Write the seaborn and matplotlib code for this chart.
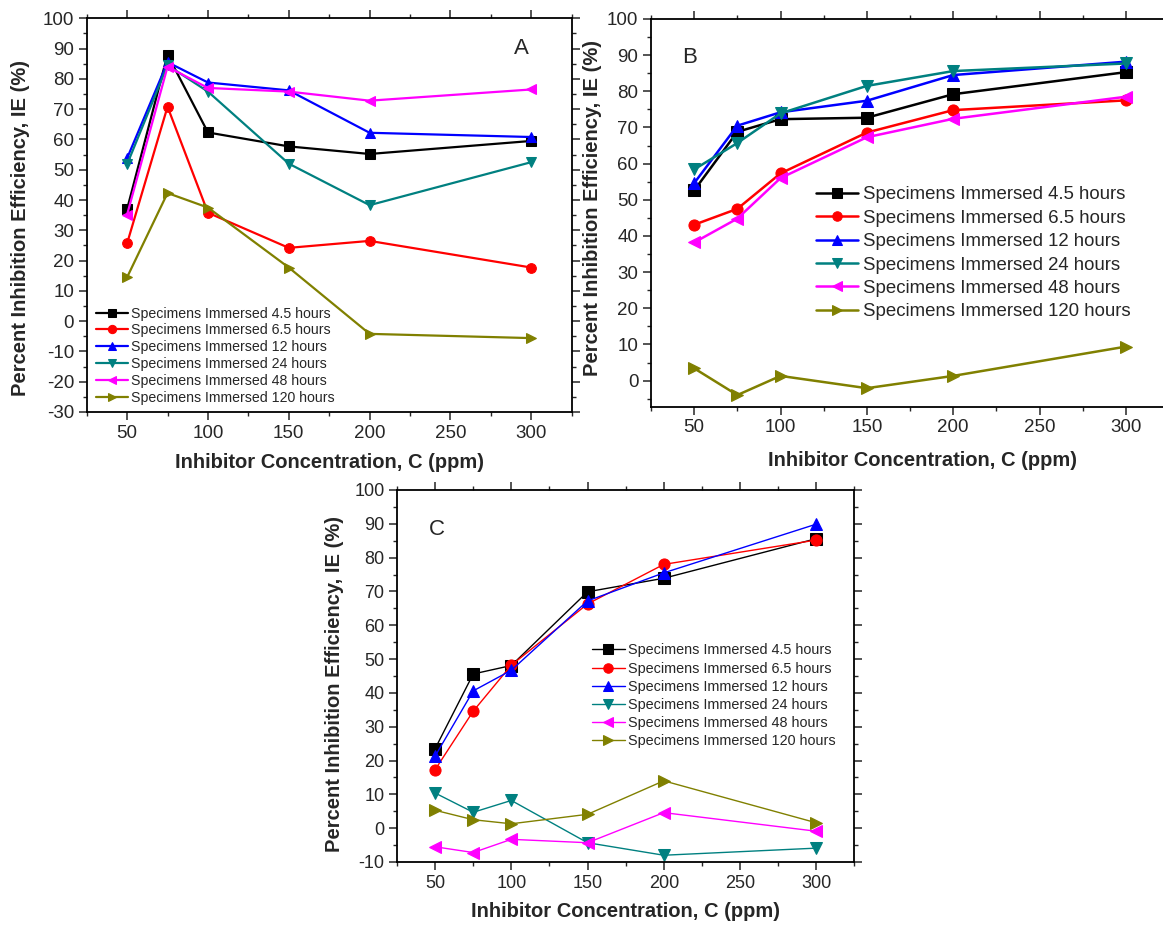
import numpy as np
import matplotlib
matplotlib.use("Agg")
import matplotlib.pyplot as plt
from matplotlib.ticker import MultipleLocator
import seaborn as sns

# ---- data ----
conc = [50, 75, 100, 150, 200, 300]
series_labels = ["Specimens Immersed 4.5 hours", "Specimens Immersed 6.5 hours",
                 "Specimens Immersed 12 hours", "Specimens Immersed 24 hours",
                 "Specimens Immersed 48 hours", "Specimens Immersed 120 hours"]

ie_a_45 = [37.0, 88.0, 62.3, 57.7, 55.2, 59.5]
ie_a_65 = [25.7, 70.8, 35.8, 24.2, 26.5, 17.7]
ie_a_12 = [53.8, 85.5, 78.8, 76.2, 62.2, 60.8]
ie_a_24 = [51.8, 84.5, 75.8, 52.0, 38.3, 52.5]
ie_a_48 = [35.2, 84.0, 77.0, 75.8, 72.8, 76.5]
ie_a_120 = [14.5, 42.3, 37.5, 17.7, -4.2, -5.6]

ie_b_45 = [52.6, 68.8, 72.3, 72.7, 79.2, 85.3]
ie_b_65 = [43.1, 47.5, 57.3, 68.6, 74.8, 77.5]
ie_b_12 = [54.6, 70.5, 74.2, 77.4, 84.5, 88.2]
ie_b_24 = [58.4, 65.7, 73.9, 81.5, 85.6, 87.7]
ie_b_48 = [38.2, 44.8, 56.0, 67.3, 72.4, 78.5]
ie_b_120 = [3.4, -4.0, 1.3, -2.1, 1.3, 9.4]

ie_c_45 = [23.5, 45.6, 48.1, 69.9, 73.9, 85.6]
ie_c_65 = [17.3, 34.6, 48.2, 66.3, 78.0, 85.2]
ie_c_12 = [21.3, 40.6, 46.7, 67.2, 75.5, 89.9]
ie_c_24 = [10.4, 4.7, 8.2, -4.3, -8.0, -5.9]
ie_c_48 = [-5.5, -7.2, -3.3, -4.3, 4.6, -0.9]
ie_c_120 = [5.3, 2.5, 1.3, 4.1, 14.0, 1.6]

colors = ["#000000", "#FF0000", "#0000FF", "#008080", "#FF00FF", "#808000"]
markers = ["s", "o", "^", "v", "<", ">"]

sns.set_style("ticks")
plt.rcParams["font.family"] = ["Liberation Sans", "DejaVu Sans"]
plt.rcParams["axes.unicode_minus"] = False

fig = plt.figure(figsize=(11.63, 9.26), dpi=100)

W, H = 1163.0, 926.0


def make_ax(x0, x1, y0, y1):
    # pixel box -> figure fraction
    return fig.add_axes([x0 / W, 1 - y1 / H, (x1 - x0) / W, (y1 - y0) / H])


def draw_panel(ax, data, ylim, letter, letter_xy, leg_xy, leg_size, leg_space,
               tick_size, lw, ms, ylab_xy, xlab_xy, right_ticks=True):
    for vals, lab, col, mk in zip(data, series_labels, colors, markers):
        sns.lineplot(x=conc, y=vals, ax=ax, color=col, marker=mk, markersize=ms,
                     markeredgecolor=col, linewidth=lw, label=lab)
    ax.set_xlim(25, 325)
    ax.set_ylim(*ylim)
    ax.xaxis.set_major_locator(MultipleLocator(50))
    ax.xaxis.set_minor_locator(MultipleLocator(25))
    ax.yaxis.set_major_locator(MultipleLocator(10))
    ax.yaxis.set_minor_locator(MultipleLocator(5))
    ax.set_xticks([50, 100, 150, 200, 250, 300])
    ax.tick_params(which="major", direction="out", length=6, width=1.1,
                   labelsize=tick_size, pad=3, top=True, right=right_ticks)
    ax.tick_params(which="minor", direction="out", length=3.2, width=1.0,
                   top=True, right=right_ticks)
    for sp in ax.spines.values():
        sp.set_linewidth(1.3)
        sp.set_color("black")
        sp.set_visible(True)
    if not right_ticks:
        ax.spines["right"].set_visible(False)
    ax.set_xlabel("Inhibitor Concentration, C (ppm)", fontsize=14.5,
                  fontweight="bold", va="center", ha="center")
    ax.set_ylabel("Percent Inhibition Efficiency, IE (%)", fontsize=14.5,
                  fontweight="bold", va="center", ha="center")
    ax.xaxis.set_label_coords(*xlab_xy)
    ax.yaxis.set_label_coords(*ylab_xy)
    ax.text(letter_xy[0], letter_xy[1], letter, transform=ax.transAxes,
            fontsize=16, ha="center", va="center")
    ax.legend(loc="center left", bbox_to_anchor=leg_xy, frameon=False,
              fontsize=leg_size, borderpad=0, borderaxespad=0,
              labelspacing=leg_space, handlelength=2.25, handletextpad=0.25,
              markerscale=0.85)


ax_a = make_ax(86.7, 571.7, 18.3, 412)
draw_panel(ax_a, [ie_a_45, ie_a_65, ie_a_12, ie_a_24, ie_a_48, ie_a_120],
           (-30, 100), "A", (0.8955, 0.924), (0.019, 0.143), 10.2, 0.2, 13.5,
           1.6, 7, (-0.1375, 0.468), (0.5, -0.129))

ax_b = make_ax(651, 1169, 19, 407)
draw_panel(ax_b, [ie_b_45, ie_b_65, ie_b_12, ie_b_24, ie_b_48, ie_b_120],
           (-7.3, 100), "B", (0.0753, 0.8995), (0.3185, 0.396), 13.4, 0.34, 13.5,
           1.8, 8, (-0.112, 0.513), (0.5245, -0.139), right_ticks=False)

ax_c = make_ax(397, 854.3, 490, 862)
draw_panel(ax_c, [ie_c_45, ie_c_65, ie_c_12, ie_c_24, ie_c_48, ie_c_120],
           (-10, 100), "C", (0.0875, 0.8925), (0.4267, 0.4465), 10.4, 0.29, 13,
           1.0, 8, (-0.1368, 0.478), (0.5, -0.1336))

fig.savefig("out.png", dpi=100)
